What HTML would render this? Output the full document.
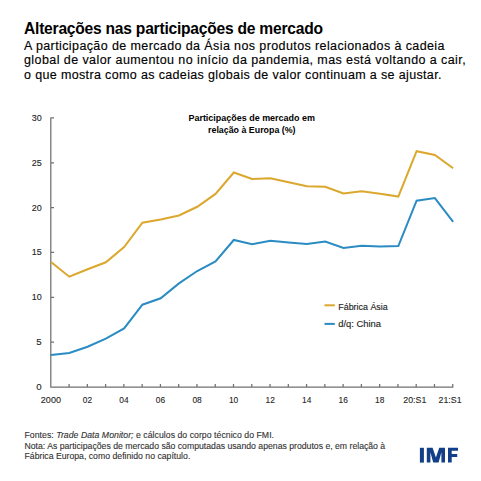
<!DOCTYPE html>
<html><head><meta charset="utf-8"><style>
html,body{margin:0;padding:0;background:#fff;}
svg{display:block;font-family:"Liberation Sans",sans-serif;}
</style></head><body>
<svg width="481" height="481" viewBox="0 0 481 481">
<rect width="481" height="481" fill="#fff"/>
<text x="24" y="33.6" font-size="15.6" font-weight="bold" fill="#000" textLength="299" lengthAdjust="spacing">Alterações nas participações de mercado</text>
<g font-size="12.5" fill="#000" stroke="#000" stroke-width="0.15">
<text x="24" y="49.6" textLength="420.5" lengthAdjust="spacing">A participação de mercado da Ásia nos produtos relacionados à cadeia</text>
<text x="24" y="64.1" textLength="441.7" lengthAdjust="spacing">global de valor aumentou no início da pandemia, mas está voltando a cair,</text>
<text x="24" y="78.7" textLength="417.5" lengthAdjust="spacing">o que mostra como as cadeias globais de valor continuam a se ajustar.</text>
</g>
<g font-size="9.8" font-weight="bold" fill="#000" text-anchor="middle">
<text x="251.7" y="120.9" textLength="126.5" lengthAdjust="spacingAndGlyphs">Participações de mercado em</text>
<text x="251.8" y="133.1" textLength="87.5" lengthAdjust="spacingAndGlyphs">relação à Europa (%)</text>
</g>
<path d="M50.8 117.4V387.0H453.4M69.07 387.00V383.90M87.34 387.00V383.90M105.61 387.00V383.90M123.88 387.00V383.90M142.15 387.00V383.90M160.42 387.00V383.90M178.69 387.00V383.90M196.96 387.00V383.90M215.23 387.00V383.90M233.50 387.00V383.90M251.77 387.00V383.90M270.04 387.00V383.90M288.31 387.00V383.90M306.58 387.00V383.90M324.85 387.00V383.90M343.12 387.00V383.90M361.39 387.00V383.90M379.66 387.00V383.90M397.93 387.00V383.90M416.20 387.00V383.90M434.47 387.00V383.90M452.74 387.00V383.90M50.80 342.15H54.00M50.80 297.30H54.00M50.80 252.45H54.00M50.80 207.60H54.00M50.80 162.75H54.00M50.80 117.90H54.00" stroke="#707070" stroke-width="1.25" fill="none"/>
<g font-size="9.8" fill="#262626" stroke="#262626" stroke-width="0.12"><text x="41.7" y="390.00" text-anchor="end" font-size="9.5" textLength="5.4" lengthAdjust="spacingAndGlyphs">0</text><text x="41.7" y="345.15" text-anchor="end" font-size="9.5" textLength="5.4" lengthAdjust="spacingAndGlyphs">5</text><text x="41.7" y="300.30" text-anchor="end" font-size="9.5" textLength="10.0" lengthAdjust="spacingAndGlyphs">10</text><text x="41.7" y="255.45" text-anchor="end" font-size="9.5" textLength="10.0" lengthAdjust="spacingAndGlyphs">15</text><text x="41.7" y="210.60" text-anchor="end" font-size="9.5" textLength="10.0" lengthAdjust="spacingAndGlyphs">20</text><text x="41.7" y="165.75" text-anchor="end" font-size="9.5" textLength="10.0" lengthAdjust="spacingAndGlyphs">25</text><text x="41.7" y="120.90" text-anchor="end" font-size="9.5" textLength="10.0" lengthAdjust="spacingAndGlyphs">30</text><text x="50.90" y="403.3" text-anchor="middle" textLength="20.1" lengthAdjust="spacingAndGlyphs">2000</text><text x="87.44" y="403.3" text-anchor="middle" textLength="9.3" lengthAdjust="spacingAndGlyphs">02</text><text x="123.98" y="403.3" text-anchor="middle" textLength="9.3" lengthAdjust="spacingAndGlyphs">04</text><text x="160.52" y="403.3" text-anchor="middle" textLength="9.3" lengthAdjust="spacingAndGlyphs">06</text><text x="197.06" y="403.3" text-anchor="middle" textLength="9.3" lengthAdjust="spacingAndGlyphs">08</text><text x="233.60" y="403.3" text-anchor="middle" textLength="9.3" lengthAdjust="spacingAndGlyphs">10</text><text x="270.14" y="403.3" text-anchor="middle" textLength="9.3" lengthAdjust="spacingAndGlyphs">12</text><text x="306.68" y="403.3" text-anchor="middle" textLength="9.3" lengthAdjust="spacingAndGlyphs">14</text><text x="343.22" y="403.3" text-anchor="middle" textLength="9.3" lengthAdjust="spacingAndGlyphs">16</text><text x="379.76" y="403.3" text-anchor="middle" textLength="9.3" lengthAdjust="spacingAndGlyphs">18</text><text x="414.80" y="403.3" text-anchor="middle" textLength="23.0" lengthAdjust="spacingAndGlyphs">20:S1</text><text x="450.04" y="403.3" text-anchor="middle" textLength="23.0" lengthAdjust="spacingAndGlyphs">21:S1</text></g>
<polyline points="51.00,262.03 69.28,276.70 87.56,269.23 105.84,262.30 124.12,247.00 142.40,222.70 160.68,219.55 178.96,215.50 197.24,206.77 215.52,193.90 233.80,172.48 252.08,179.05 270.36,178.15 288.64,182.20 306.92,186.25 325.20,186.70 343.48,193.45 361.76,191.20 380.04,193.72 398.32,196.60 416.60,151.24 434.88,155.02 453.16,168.25" fill="none" stroke="#DBA72C" stroke-width="2" stroke-linejoin="miter"/>
<polyline points="51.00,355.00 69.28,353.02 87.56,346.72 105.84,338.71 124.12,328.36 142.40,304.69 160.68,298.30 178.96,283.36 197.24,271.03 215.52,261.40 233.80,239.98 252.08,244.30 270.36,240.70 288.64,242.50 306.92,244.03 325.20,241.60 343.48,247.99 361.76,245.74 380.04,246.55 398.32,246.10 416.60,200.74 434.88,198.04 453.16,221.80" fill="none" stroke="#2A8CC2" stroke-width="2" stroke-linejoin="miter"/>
<path d="M324.5 305.3H334.8" stroke="#DBA72C" stroke-width="2"/>
<path d="M324.5 323.9H334.8" stroke="#2A8CC2" stroke-width="2"/>
<g font-size="9.5" fill="#262626" stroke="#262626" stroke-width="0.15">
<text x="338.3" y="309.8" textLength="49.4" lengthAdjust="spacingAndGlyphs">Fábrica Ásia</text>
<text x="338.3" y="327.1" textLength="42.7" lengthAdjust="spacingAndGlyphs">d/q: China</text>
</g>
<g font-size="8.7" fill="#333" stroke="#333" stroke-width="0.12">
<text x="24.5" y="438.2" textLength="249.5" lengthAdjust="spacing">Fontes: <tspan font-style="italic">Trade Data Monitor;</tspan> e cálculos do corpo técnico do FMI.</text>
<text x="24.5" y="448.8" textLength="360.7" lengthAdjust="spacing">Nota: As participações de mercado são computadas usando apenas produtos e, em relação à</text>
<text x="24.5" y="459.4" textLength="165.8" lengthAdjust="spacing">Fábrica Europa, como definido no capítulo.</text>
</g>
<g fill="#123F88">
<rect x="419.9" y="447.8" width="4.0" height="14.8"/>
<polygon points="426.8,462.6 426.8,447.8 432.6,447.8 435.9,457.4 439.2,447.8 445.0,447.8 445.0,462.6 441.4,462.6 441.4,452.2 438.6,462.6 433.2,462.6 430.4,452.2 430.4,462.6"/>
<polygon points="448.0,462.6 448.0,447.8 458.0,447.8 458.0,450.8 451.7,450.8 451.7,454.0 457.2,454.0 457.2,457.0 451.7,457.0 451.7,462.6"/>
</g>
</svg>
</body></html>
